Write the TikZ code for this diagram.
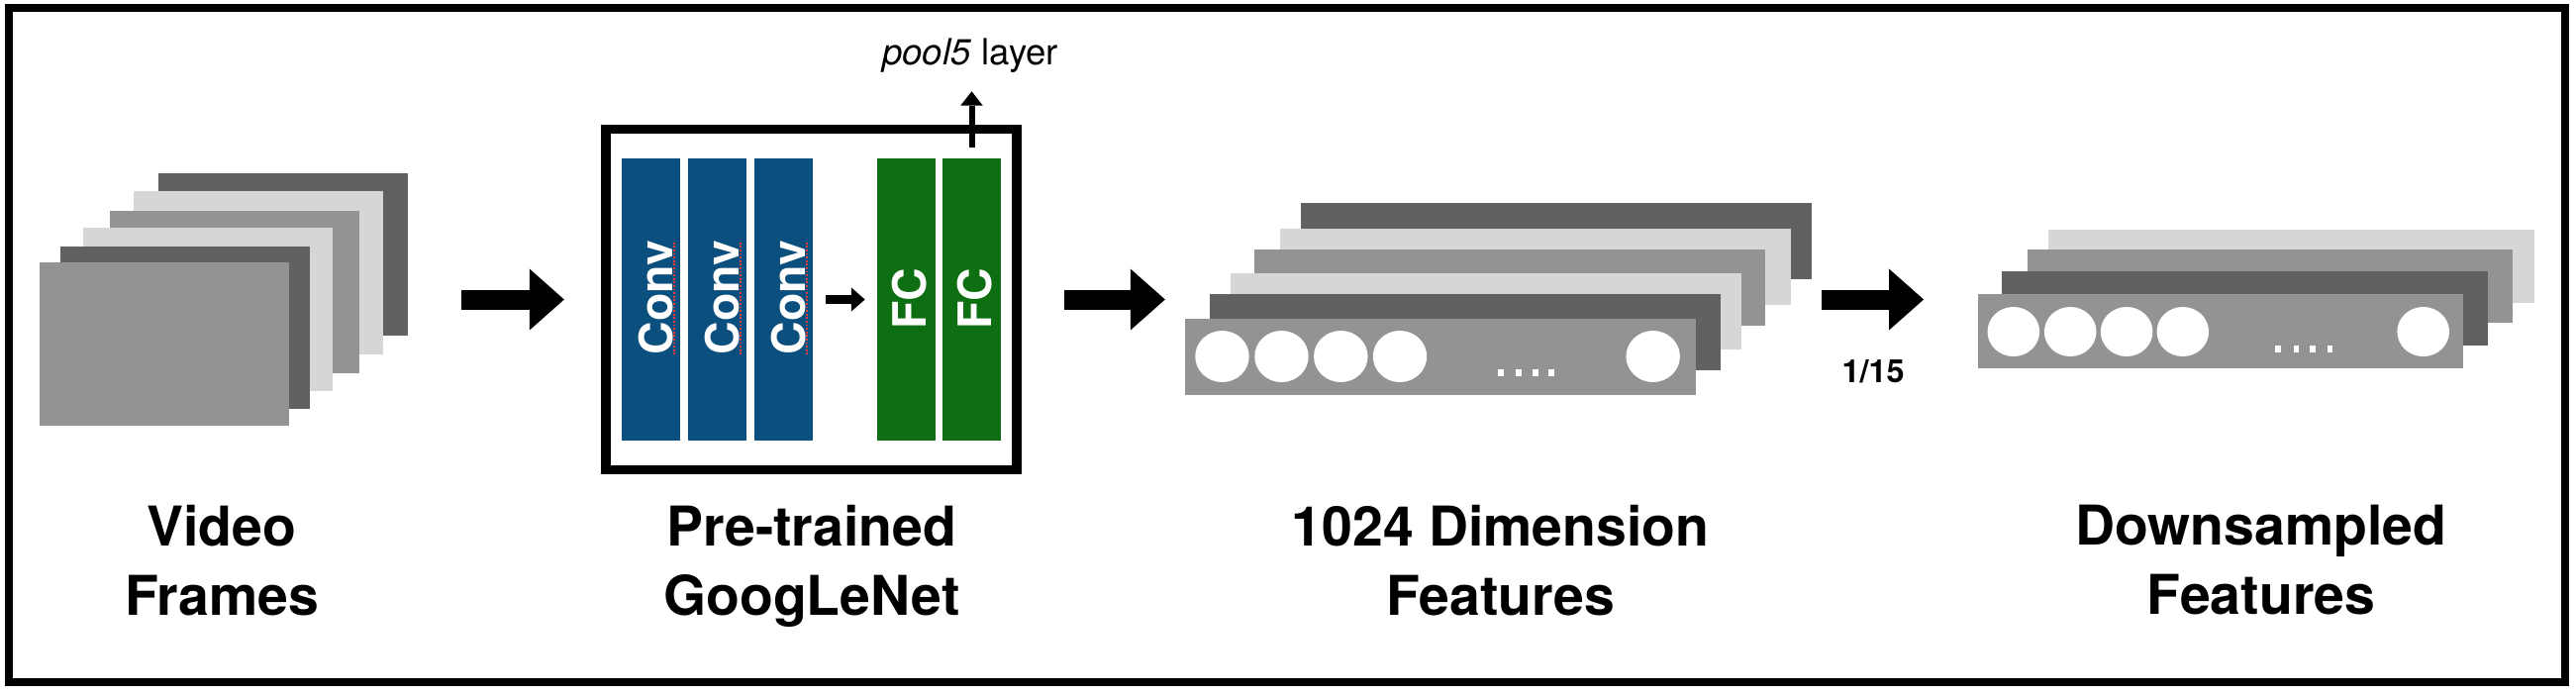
\documentclass[tikz,border=0pt]{standalone}
\usepackage{fontspec}
\setmainfont{TeX Gyre Heros}
\usetikzlibrary{arrows.meta,shapes.geometric}
\definecolor{gDark}{RGB}{97,97,97}
\definecolor{gMid}{RGB}{147,147,147}
\definecolor{gLight}{RGB}{214,214,214}
\definecolor{convBlue}{RGB}{11,79,127}
\definecolor{fcGreen}{RGB}{14,110,18}
\definecolor{spellRed}{RGB}{232,60,60}
\begin{document}
\begin{tikzpicture}[x=0.01cm,y=-0.01cm,
  blk/.style={rectangle, inner sep=0pt, outer sep=0pt, draw=none},
  frame/.style={blk, minimum width=2.52cm, minimum height=1.645cm},
  featA/.style={blk, minimum width=5.16cm, minimum height=0.77cm},
  featB/.style={blk, minimum width=4.905cm, minimum height=0.745cm},
  layer/.style={blk, minimum width=0.59cm, minimum height=2.85cm},
  layertext/.style={rotate=90, text=white, inner sep=0pt, outer sep=0pt, font=\fontsize{13.2}{16}\selectfont\bfseries},
  circA/.style={ellipse, fill=white, draw=none, inner sep=0pt, outer sep=0pt, minimum width=0.544cm, minimum height=0.52cm},
  circB/.style={ellipse, fill=white, draw=none, inner sep=0pt, outer sep=0pt, minimum width=0.526cm, minimum height=0.50cm},
  dotA/.style={blk, fill=white, minimum width=0.06cm, minimum height=0.067cm},
  dotB/.style={blk, fill=white, minimum width=0.055cm, minimum height=0.063cm},
  lbl/.style={anchor=north, align=center, inner sep=0pt, font=\fontsize{15.75}{19.92}\selectfont\bfseries},
  bigarrow/.style={line width=0.2cm, -{Triangle[length=0.35cm,width=0.62cm,line width=0pt]}},
  midarrow/.style={line width=0.083cm, -{Triangle[length=0.137cm,width=0.24cm,line width=0pt]}},
  thinarrow/.style={line width=0.06cm, -{Triangle[length=0.144cm,width=0.226cm,line width=0pt]}},
  spell/.style={spellRed, line width=0.02cm, dash pattern=on 0.018cm off 0.018cm}
]
\useasboundingbox (0,0) rectangle (2602,702);
\draw[line width=0.077cm] (8.8,7.8) rectangle (2590.8,688.7);

% video frames
\node[frame, fill=gDark]  (f6) at (286,257) {};
\node[frame, fill=gLight] (f5) at (261,275.3) {};
\node[frame, fill=gMid]   (f4) at (237,294.8) {};
\node[frame, fill=gLight] (f3) at (210,312.3) {};
\node[frame, fill=gDark]  (f2) at (187,330.8) {};
\node[frame, fill=gMid]   (f1) at (166,347.5) {};

% GoogLeNet box
\node[draw, line width=0.093cm, rectangle, inner sep=0pt, outer sep=0pt,
      minimum width=4.15cm, minimum height=3.444cm] (gnet) at (819.5,302.5) {};
\node[layer, fill=convBlue] (conv1) at (657.5,302.5) {};
\node[layer, fill=convBlue] (conv2) at (724.5,302.5) {};
\node[layer, fill=convBlue] (conv3) at (791.5,302.5) {};
\node[layer, fill=fcGreen]  (fc1)   at (915.5,302.5) {};
\node[layer, fill=fcGreen]  (fc2)   at (981.5,302.5) {};
\node[layertext] (tconv1) at (662.5,300.7) {Conv};
\node[layertext] (tconv2) at (729.2,300.7) {Conv};
\node[layertext] (tconv3) at (796.5,300.7) {Conv};
\node[layertext] (tfc1)   at (919,302) {FC};
\node[layertext] (tfc2)   at (985,302) {FC};
\draw[spell] ([xshift=0.01cm]tconv1.south west) -- ([xshift=0.01cm]tconv1.south east);
\draw[spell] ([xshift=0.01cm]tconv2.south west) -- ([xshift=0.01cm]tconv2.south east);
\draw[spell] ([xshift=0.01cm]tconv3.south west) -- ([xshift=0.01cm]tconv3.south east);
\draw[midarrow, shorten <=0.133cm, shorten >=0.123cm] (conv3.east) -- (fc1.west);

\node[anchor=base, inner sep=0pt, font=\fontsize{10.4}{12}\selectfont] (p5) at (980,65.7) {\textit{pool5} layer};
\coordinate (p5tip) at (981.5,92.3);
\draw[thinarrow, shorten <=0.107cm] (fc2.north) -- (p5tip);

% 1024 features
\node[featA, fill=gDark]  (a6) at (1572,243.5) {};
\node[featA, fill=gLight] (a5) at (1551,269.2) {};
\node[featA, fill=gMid]   (a4) at (1525,290.5) {};
\node[featA, fill=gLight] (a3) at (1501,314.5) {};
\node[featA, fill=gDark]  (a2) at (1480,335.5) {};
\node[featA, fill=gMid]   (a1) at (1455,360.5) {};
\foreach \cx [count=\i] in {1234.5,1294.5,1354.3,1414,1669.7}
  \node[circA] (ca\i) at (\cx,360) {};
\foreach \dx [count=\i] in {1516.3,1533.7,1551.2,1567.3}
  \node[dotA] (da\i) at (\dx,376.7) {};

% downsampled features
\node[featB, fill=gLight] (b4) at (2314.5,269.2) {};
\node[featB, fill=gMid]   (b3) at (2293,289.2) {};
\node[featB, fill=gDark]  (b2) at (2267.2,311.5) {};
\node[featB, fill=gMid]   (b1) at (2243,334.7) {};
\foreach \cx [count=\i] in {2033.8,2091.2,2148.1,2204.8,2447.7}
  \node[circB] (cb\i) at (\cx,335) {};
\foreach \dx [count=\i] in {2301.1,2319.3,2336,2353.3}
  \node[dotB] (db\i) at (\dx,352.5) {};

% main arrows
\draw[bigarrow, shorten <=0.54cm, shorten >=0.42cm] (f6.east |- gnet.west) -- (gnet.west);
\draw[bigarrow, shorten <=0.48cm, shorten >=0.20cm] (gnet.east) -- (gnet.east -| a1.west);
\draw[bigarrow, shorten <=0.096cm, shorten >=0.545cm] (a6.east |- gnet.east) -- (gnet.east -| b1.west);
\node[anchor=base, inner sep=0pt, font=\fontsize{9.2}{11}\selectfont\bfseries] (ratio) at (1892,386.7) {1/15};

% labels
\node[lbl] (lvideo) at (224,509.4) {Video\\Frames};
\node[lbl] (lgnet)  at (820,509.4) {Pre-trained\\GoogLeNet};
\node[lbl] (lfeat)  at (1515.5,509.4) {1024 Dimension\\Features};
\node[lbl] (ldown)  at (2284,509.4) {Downsampled\\Features};
\end{tikzpicture}
\end{document}
